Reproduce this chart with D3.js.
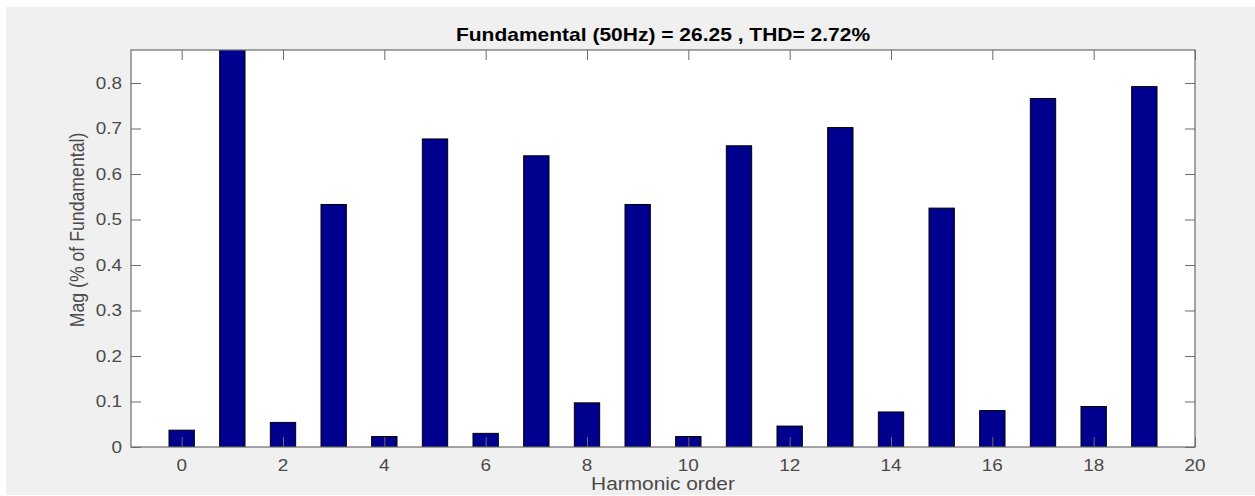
<!DOCTYPE html>
<html>
<head>
<meta charset="utf-8">
<script src="https://cdn.jsdelivr.net/npm/d3@7"></script>
<style>
  html, body { margin: 0; padding: 0; background: #ffffff; }
  svg { display: block; }
  text { font-family: "Liberation Sans", Arial, Helvetica, sans-serif; }
</style>
</head>
<body>
<svg id="chart" width="1255" height="496"></svg>
<script>
// ---- data ----
const harmonicOrders = [0, 1, 2, 3, 4, 5, 6, 7, 8, 9, 10, 11, 12, 13, 14, 15, 16, 17, 18, 19];
const magnitudes = [0.037, 100, 0.054, 0.533, 0.023, 0.677, 0.030, 0.640, 0.097, 0.533,
                    0.023, 0.662, 0.046, 0.702, 0.077, 0.525, 0.080, 0.766, 0.089, 0.792];
const xTicks = [0, 2, 4, 6, 8, 10, 12, 14, 16, 18, 20];
const yTicks = [0, 0.1, 0.2, 0.3, 0.4, 0.5, 0.6, 0.7, 0.8];
const titleText = "Fundamental (50Hz) = 26.25 , THD= 2.72%";
const xLabelText = "Harmonic order";
const yLabelText = "Mag (% of Fundamental)";

// ---- layout ----
const svg = d3.select("#chart");
const W = 1255, H = 496;
const plot = { left: 131, right: 1195, top: 50, bottom: 447 };
const stretch = 1.18;      // horizontal text stretch seen in reference
const axisColor = "#6b6b6b";
const textColor = "#4a4a4a";
const barFill = "#00008f";

svg.append("rect").attr("x", 6).attr("y", 7).attr("width", W - 6).attr("height", H - 8)
   .attr("fill", "#f0f0f0");

const x = d3.scaleLinear().domain([-1, 20]).range([plot.left, plot.right]);
const y = d3.scaleLinear().domain([0, 0.8725]).range([plot.bottom, plot.top]);

// plot background
svg.append("rect")
   .attr("x", plot.left).attr("y", plot.top)
   .attr("width", plot.right - plot.left).attr("height", plot.bottom - plot.top)
   .attr("fill", "#ffffff");

svg.append("clipPath").attr("id", "clip")
   .append("rect")
   .attr("x", plot.left).attr("y", plot.top)
   .attr("width", plot.right - plot.left).attr("height", plot.bottom - plot.top);

// bars
const barW = x(0.5) - x(0);
svg.append("g").attr("clip-path", "url(#clip)")
   .selectAll("rect").data(harmonicOrders).enter().append("rect")
   .attr("x", (d) => x(d) - barW / 2)
   .attr("width", barW)
   .attr("y", (d, i) => y(Math.min(magnitudes[i], 1)))
   .attr("height", (d, i) => y(0) - y(Math.min(magnitudes[i], 1)))
   .attr("fill", barFill)
   .attr("stroke", "#000000")
   .attr("stroke-width", 1);

// axes (ticks inward, on all four sides)
const tickLen = 10;
const xAxisBottom = d3.axisBottom(x).tickValues(xTicks).tickSizeInner(-tickLen).tickSizeOuter(0).tickFormat("");
const xAxisTop = d3.axisTop(x).tickValues(xTicks).tickSizeInner(-tickLen).tickSizeOuter(0).tickFormat("");
const yAxisLeft = d3.axisLeft(y).tickValues(yTicks).tickSizeInner(-tickLen).tickSizeOuter(0).tickFormat("");
const yAxisRight = d3.axisRight(y).tickValues(yTicks).tickSizeInner(-tickLen).tickSizeOuter(0).tickFormat("");

function styleAxis(g) {
  g.selectAll("path.domain").remove();
  g.selectAll(".tick line").attr("stroke", axisColor).attr("stroke-width", 1);
}
svg.append("g").attr("transform", `translate(0,${plot.bottom})`).call(xAxisBottom).call(styleAxis);
svg.append("g").attr("transform", `translate(0,${plot.top})`).call(xAxisTop).call(styleAxis);
svg.append("g").attr("transform", `translate(${plot.left},0)`).call(yAxisLeft).call(styleAxis);
svg.append("g").attr("transform", `translate(${plot.right},0)`).call(yAxisRight).call(styleAxis);

// box
svg.append("rect")
   .attr("x", plot.left).attr("y", plot.top)
   .attr("width", plot.right - plot.left).attr("height", plot.bottom - plot.top)
   .attr("fill", "none").attr("stroke", axisColor).attr("stroke-width", 1.2);

// tick labels
const fmt = d3.format("~g");
svg.append("g").selectAll("text").data(xTicks).enter().append("text")
   .attr("transform", (d) => `translate(${x(d)},${plot.bottom + 23.5}) scale(${stretch},1)`)
   .attr("text-anchor", "middle")
   .attr("font-size", 16)
   .attr("fill", textColor)
   .text((d) => fmt(d));

svg.append("g").selectAll("text").data(yTicks).enter().append("text")
   .attr("transform", (d) => `translate(${plot.left - 9},${y(d) + 6}) scale(${stretch},1)`)
   .attr("text-anchor", "end")
   .attr("font-size", 16)
   .attr("fill", textColor)
   .text((d) => fmt(d));

// title
svg.append("text")
   .attr("transform", `translate(${(plot.left + plot.right) / 2},41) scale(${stretch},1)`)
   .attr("text-anchor", "middle")
   .attr("font-size", 17.8)
   .attr("font-weight", "bold")
   .attr("fill", "#000000")
   .text(titleText);

// x label
svg.append("text")
   .attr("transform", `translate(${(plot.left + plot.right) / 2},490) scale(${stretch},1)`)
   .attr("text-anchor", "middle")
   .attr("font-size", 17.7)
   .attr("fill", textColor)
   .text(xLabelText);

// y label
svg.append("text")
   .attr("transform", `translate(84,230) scale(${stretch},1) rotate(-90)`)
   .attr("text-anchor", "middle")
   .attr("font-size", 17.7)
   .attr("fill", textColor)
   .text(yLabelText);
</script>
</body>
</html>
